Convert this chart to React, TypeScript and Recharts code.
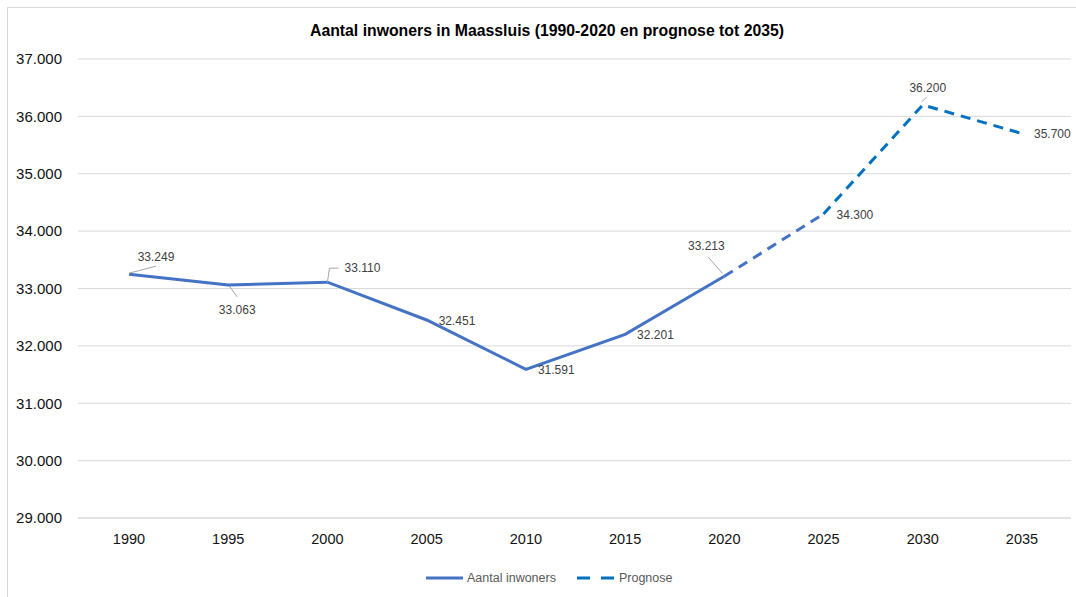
import React from 'react';
import { LineChart, Line, XAxis, YAxis, CartesianGrid, LabelList } from 'recharts';

const years = ['1990', '1995', '2000', '2005', '2010', '2015', '2020', '2025', '2030', '2035'];
const inwoners = [33249, 33063, 33110, 32451, 31591, 32201, 33213, null, null, null];
// dashed piece of the same series between 2020 and 2025
const overgang = [null, null, null, null, null, null, 33213, 34300, null, null];
const prognose = [null, null, null, null, null, null, null, 34300, 36200, 35700];
const yTicks = [29000, 30000, 31000, 32000, 33000, 34000, 35000, 36000, 37000];

const data = years.map((jaar, i) => ({
  jaar,
  inwoners: inwoners[i],
  overgang: overgang[i],
  prognose: prognose[i]
}));

const BLUE = '#4472C4';
const DARK_BLUE = '#0070C0';
const FONT = '"Liberation Sans", Arial, sans-serif';

const fmt = (v: number) => String(v).replace(/\B(?=(\d{3})+(?!\d))/g, '.');

type Placement = {
  dx: number;
  dy: number;
  anchor?: 'start' | 'middle' | 'end';
  leader?: [number, number][];
};

const labelPlacement: Record<string, Placement> = {
  '1990': { dx: 27, dy: -17, anchor: 'middle', leader: [[0, -1], [27, -8]] },
  '1995': { dx: 9, dy: 25, anchor: 'middle', leader: [[1, 1], [9, 12]] },
  '2000': { dx: 35, dy: -14, anchor: 'middle', leader: [[0, 0], [2, -14], [11, -14]] },
  '2005': { dx: 12, dy: 1.5 },
  '2010': { dx: 12, dy: 1 },
  '2015': { dx: 12, dy: 1 },
  '2020': { dx: -18, dy: -30, anchor: 'middle', leader: [[-2, -3], [-16, -19]] },
  '2025': { dx: 13, dy: 1 },
  '2030': { dx: 5, dy: -17, anchor: 'middle', leader: [[-1, -3], [4, -8]] },
  '2035': { dx: 12, dy: 0 }
};

const renderLabel = (props: any) => {
  const { x, y, value, index } = props;
  if (value == null || x == null || y == null) return null;
  const p = labelPlacement[years[index]] || { dx: 12, dy: 0 };
  const px = Number(x);
  const py = Number(y);
  return (
    <g key={`lbl-${index}`}>
      {p.leader &&
      <polyline
        points={p.leader.map(([a, b]) => `${px + a},${py + b}`).join(' ')}
        fill="none"
        stroke="#a6a6a6"
        strokeWidth={1} />
      }
      <text
        x={px + p.dx}
        y={py + p.dy}
        textAnchor={p.anchor || 'start'}
        dominantBaseline="central"
        fontFamily={FONT}
        fontSize={12}
        fill="#404040">
        {fmt(Number(value))}
      </text>
    </g>);
};

function Legenda() {
  return (
    <div
      style={{
        position: 'absolute',
        top: 563,
        left: 417,
        display: 'flex',
        alignItems: 'center',
        fontFamily: FONT,
        fontSize: 12.5,
        color: '#595959'
      }}>
      <svg width={39} height={14}>
        <line x1={1} y1={7} x2={38} y2={7} stroke={BLUE} strokeWidth={3} />
      </svg>
      <span style={{ marginLeft: 3 }}>Aantal inwoners</span>
      <svg width={38} height={14} style={{ marginLeft: 20 }}>
        <line x1={1} y1={7} x2={38} y2={7} stroke={DARK_BLUE} strokeWidth={3} strokeDasharray="13 11" />
      </svg>
      <span style={{ marginLeft: 5 }}>Prognose</span>
    </div>);
}

export default function App() {
  return (
    <div
      style={{
        position: 'absolute',
        left: 7,
        top: 7,
        width: 1069,
        height: 590,
        borderLeft: '1px solid #d9d9d9',
        borderTop: '1px solid #d9d9d9',
        background: '#fff',
        overflow: 'hidden'
      }}>
      <div
        style={{
          position: 'absolute',
          top: 14,
          left: 0,
          width: 1078,
          textAlign: 'center',
          fontFamily: FONT,
          fontWeight: 'bold',
          fontSize: 15.8,
          color: '#000'
        }}>
        Aantal inwoners in Maassluis (1990-2020 en prognose tot 2035)
      </div>
      <LineChart width={1068} height={589} data={data} margin={{ top: 51, right: 5, left: 0, bottom: 49 }}>
        <CartesianGrid vertical={false} stroke="#d9d9d9" />
        <XAxis
          dataKey="jaar"
          padding={{ left: 51, right: 49 }}
          height={30}
          tickLine={false}
          tickSize={0}
          tickMargin={16}
          axisLine={{ stroke: '#d9d9d9' }}
          tick={{ fill: '#111', fontSize: 14.5, fontFamily: FONT }} />
        <YAxis
          domain={[29000, 37000]}
          ticks={yTicks}
          width={70}
          axisLine={false}
          tickLine={false}
          tickSize={0}
          tickMargin={16}
          tickFormatter={fmt}
          tick={{ fill: '#111', fontSize: 15, fontFamily: FONT }} />
        <Line
          dataKey="overgang"
          stroke={BLUE}
          strokeWidth={3}
          strokeDasharray="10 7"
          dot={false}
          activeDot={false}
          legendType="none"
          isAnimationActive={false} />
        <Line
          dataKey="inwoners"
          name="Aantal inwoners"
          stroke={BLUE}
          strokeWidth={3}
          dot={false}
          activeDot={false}
          isAnimationActive={false}>
          <LabelList dataKey="inwoners" content={renderLabel} />
        </Line>
        <Line
          dataKey="prognose"
          name="Prognose"
          stroke={DARK_BLUE}
          strokeWidth={3}
          strokeDasharray="10 7"
          dot={false}
          activeDot={false}
          isAnimationActive={false}>
          <LabelList dataKey="prognose" content={renderLabel} />
        </Line>
      </LineChart>
      <Legenda />
    </div>);
}
